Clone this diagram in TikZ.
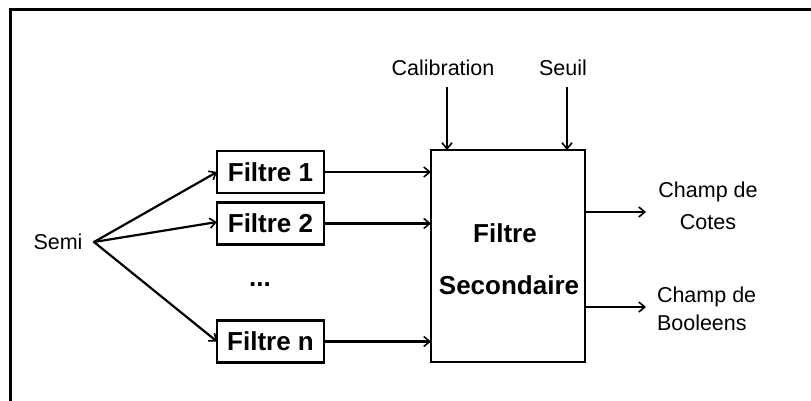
\documentclass[tikz,border=0pt]{standalone}
\usepackage{fontspec}
\setmainfont{Liberation Sans}
\usetikzlibrary{arrows.meta}
\tikzset{
  every node/.style={inner sep=0pt, outer sep=0pt},
  lbl/.style={font=\fontsize{21.5}{24}\selectfont},
  blbl/.style={font=\fontsize{26}{30}\selectfont\bfseries},
  fbox/.style={draw, line width=2.2pt, minimum width=107pt, minimum height=42pt, font=\fontsize{26}{30}\selectfont\bfseries},
  arr/.style={line width=2.2pt, -{Straight Barb[length=6pt,width=10pt,line width=1.6pt]}},
  frame/.style={line width=3pt}
}
\begin{document}
\begin{tikzpicture}[x=1pt,y=-1pt]
\useasboundingbox (0,0) rectangle (811,401);
% frame
\coordinate (ftl) at (10,10);
\coordinate (ftr) at (811,10);
\coordinate (fbl) at (10,401);
\draw[frame] (ftr) -- (ftl) -- (fbl);
% nodes
\node[lbl] (semi) at (58,242) {Semi};
\coordinate (sp) at (94,242);
\node[fbox] (f1) at (270.5,172) {Filtre 1};
\node[fbox] (f2) at (270.5,223.5) {Filtre 2};
\node[fbox] (fn) at (270.5,341.5) {Filtre n};
\node[blbl] (dots) at (260,285) {...};
\node[draw, line width=2.2pt, minimum width=154pt, minimum height=212pt] (sec) at (508,256) {};
\node[blbl] (sect1) at (505,233) {Filtre};
\node[blbl] (sect2) at (509,285) {Secondaire};
\node[lbl] (cal) at (443,68) {Calibration};
\node[lbl] (seuil) at (563,68) {Seuil};
\coordinate (calin) at (447,87);
\coordinate (seuilin) at (567,87);
\coordinate (o1) at (646,212);
\coordinate (o2) at (646,307);
\node[font=\fontsize{21.5}{32}\selectfont, align=center, anchor=north] (cotes) at (708,182) {Champ de\\Cotes};
\node[font=\fontsize{21.5}{28}\selectfont, align=left, anchor=north west] (bool) at (657,287) {Champ de\\Booleens};
% connectors
\draw[arr] (sp) -- (f1.west);
\draw[arr] (sp) -- ([yshift=1.5pt]f2.west);
\draw[arr] (sp) -- (fn.west);
\draw[arr] (f1.east) -- (f1.east -| sec.west);
\draw[arr] (f2.east) -- (f2.east -| sec.west);
\draw[arr] (fn.east) -- (fn.east -| sec.west);
\draw[arr] (calin) -- (calin |- sec.north);
\draw[arr] (seuilin) -- (seuilin |- sec.north);
\draw[arr] (o1 -| sec.east) -- (o1);
\draw[arr] (o2 -| sec.east) -- (o2);
\fill (sp) circle (1.5pt);
\end{tikzpicture}
\end{document}
